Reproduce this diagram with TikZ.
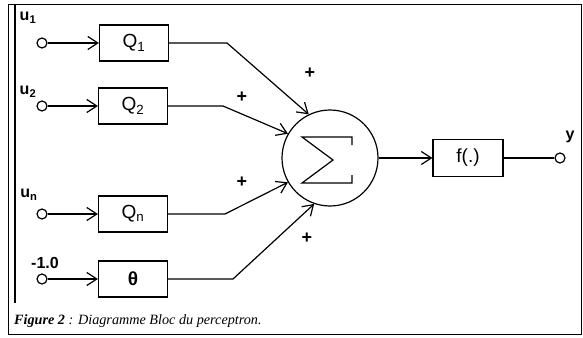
\documentclass[tikz,border=0pt]{standalone}
\usepackage{fontspec}
\setmainfont{Liberation Serif}
\setsansfont{Liberation Sans}
\usetikzlibrary{arrows.meta}
\tikzset{
  x=1pt, y=-1pt,
  wire/.style={line width=1.2pt},
  arr/.style={wire, -{Straight Barb[length=10pt,width=13pt,line width=1.2pt]}},
  blockbox/.style={draw, line width=1.2pt, minimum width=69pt, minimum height=36pt, inner sep=0pt, font=\sffamily\fontsize{19}{19}\selectfont},
  port/.style={draw, circle, line width=1.2pt, minimum size=10pt, inner sep=0pt},
  lbl/.style={font=\sffamily\bfseries\fontsize{16}{16}\selectfont, inner sep=0pt},
  sgn/.style={font=\sffamily\bfseries\fontsize{18}{18}\selectfont, inner sep=0pt}
}
\begin{document}
\begin{tikzpicture}
\useasboundingbox (0,0) rectangle (583,337);
% frame
\draw[line width=1pt] (8,5) rectangle (581,334);
\draw[line width=2.4pt] (15,5) -- (15,303);
% blocks
\node[blockbox] (q1) at (134,43) {Q\textsubscript{1}};
\node[blockbox] (q2) at (133,106) {Q\textsubscript{2}};
\node[blockbox] (qn) at (133,214) {Q\textsubscript{n}};
\node[blockbox] (th) at (133,279) {\bfseries θ};
\node[blockbox, minimum width=70pt, minimum height=37pt] (f) at (468,158) {f(.)};
% input ports
\node[port] (i1) at (42,43) {};
\node[port] (i2) at (42,106) {};
\node[port] (in) at (42,214) {};
\node[port] (it) at (42,279) {};
\node[lbl] (l1) at (28,18) {u\textsubscript{1}};
\node[lbl] (l2) at (28,92) {u\textsubscript{2}};
\node[lbl] (ln) at (29,195) {u\textsubscript{n}};
\node[lbl] (lt) at (45,263) {-1.0};
\draw[arr] (i1) -- (q1);
\draw[arr] (i2) -- (q2);
\draw[arr] (in) -- (qn);
\draw[arr] (it) -- (th);
% sum
\node[draw, circle, line width=1.2pt, minimum size=96pt, inner sep=0pt] (s) at (330,158) {};
\draw[line width=1.2pt, line join=miter] (352,145) -- (352,137) -- (302,137) -- (333,160) -- (302,183) -- (352,183) -- (352,175);
\coordinate (c1) at (227,43);
\coordinate (c2) at (223,106);
\coordinate (c3) at (225,214);
\coordinate (c4) at (233,279);
\draw[arr] (q1.east) -- (c1) -- (s.116);
\draw[arr] (q2.east) -- (c2) -- (s.150);
\draw[arr] (qn.east) -- (c3) -- (s.210);
\draw[arr] (th.east) -- (c4) -- (s.251);
\node[sgn] (p1) at (310,73) {+};
\node[sgn] (p2) at (242,97) {+};
\node[sgn] (p3) at (242,182) {+};
\node[sgn] (p4) at (307,238) {+};
% output
\draw[arr] (s) -- (f);
\node[port] (o) at (560,158) {};
\draw[wire] (f) -- (o);
\node[lbl] (ly) at (570,137) {y};
% caption
\node[anchor=base west, inner sep=0pt, font=\fontsize{14.2}{14.2}\selectfont\itshape] (cap) at (14,324) {\textbf{Figure 2} : Diagramme Bloc du perceptron.};
\end{tikzpicture}
\end{document}
